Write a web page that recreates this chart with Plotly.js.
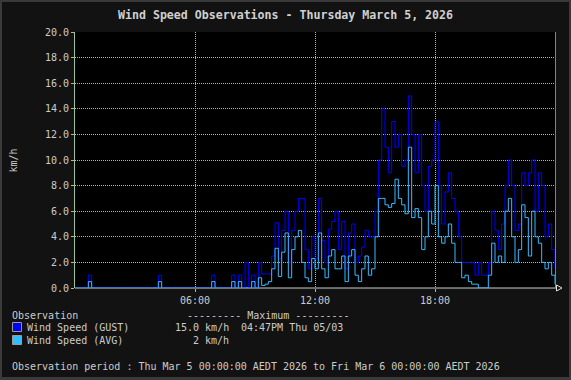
<!DOCTYPE html>
<html><head><meta charset="utf-8">
<script src="https://cdn.plot.ly/plotly-3.0.1.min.js"></script>
<style>
html,body{margin:0;padding:0;background:#3a3a3a;width:571px;height:380px;overflow:hidden}
#chart{position:absolute;left:2px;top:2px;width:567px;height:375px;}
</style></head><body><div id="chart"></div>
<script>
// ---- data (10-minute steps starting 2026-03-05 00:00) ----
const startDay = '2026-03-05';
const stepMinutes = 10;
const gust = [
 0,0,0,0,1,0,0,0,0,0, 0,0,0,0,0,0,0,0,0,0,
 0,0,0,0,0,1,0,0,0,0, 0,0,0,0,0,0,0,0,0,0,
 0,1,0,0,0,0,0,1,0,1, 0,2,0,1,0,2,1.1,1.1,1.1,2.5,
 5.1,2.3,4.5,6,2,4.5,6,7,7,3, 1.5,4,2.3,7,3.7,2,4.6,5.2,6,3,
 5.2,1.5,4.3,5,2,2.5,3.2,4.5,4,4, 6,10,14,11,9,13,11,12,9.5,10,
 15,12,9,12,8,6,9.5,10,13,8, 5,7.5,9,7,6,4,2,2,2,2,
 1,2,1,1,2,6,4.5,3,5,8, 10,8,4.5,5,9,8,9,10,6,9,
 8,4,5,3,1.5
];
const avg = [
 0,0,0,0,0.5,0,0,0,0,0, 0,0,0,0,0,0,0,0,0,0,
 0,0,0,0,0,0.5,0,0,0,0, 0,0,0,0,0,0,0,0,0,0,
 0,0.5,0,0,0,0,0,0.5,0,0.5, 0,0,0,0.5,0,0.8,0.2,0.3,0.5,1.5,
 3.1,0.9,2.8,4.3,0.8,3,4,4.5,2,0.8, 0.5,2.3,1.5,4.3,1.5,0.8,2.5,3,1.5,1.5,
 2.5,0.5,2.5,3,1,0.5,1.5,2.5,1,1.5, 4,7,7,6.5,6.3,6.6,8.5,7,6.5,5.8,
 11,5.5,6.2,5.5,3,4,6,5,8,4, 3.5,4,5,3.5,2,2,0.8,1,0.5,0.3,
 0.3,0,0,0,1,3.5,2,2.5,2,6, 7,4,2,3,6.5,5.5,2.5,6,4,3.5,
 2,1.5,2,1,0.3
];
const seriesNames = ['Wind Speed (GUST)', 'Wind Speed (AVG)'];
const seriesColors = ['#0000ff', '#33bbff'];
const yTickVals = [0,2,4,6,8,10,12,14,16,18,20];
const xTickVals = ['2026-03-05 06:00','2026-03-05 12:00','2026-03-05 18:00'];
const xTickLabels = ['06:00','12:00','18:00'];
const maxGust = '15.0 km/h';
const maxGustTime = '04:47PM Thu 05/03';
const maxAvg = '2 km/h';
const titleText = 'Wind Speed Observations - Thursday March 5, 2026';
const periodText = 'Observation period : Thu Mar 5 00:00:00 AEDT 2026 to Fri Mar 6 00:00:00 AEDT 2026';

function pad(n){return (n<10?'0':'')+n;}
const times = gust.map((_, i) => {
  const m = i*stepMinutes;
  const d = 5 + Math.floor(m/1440);
  const mm = m % 1440;
  return '2026-03-' + pad(d) + ' ' + pad(Math.floor(mm/60)) + ':' + pad(mm%60);
});

// ---- layout geometry (page pixels -> paper) ----
const W = 567, H = 375, offX = 2, offY = 2;
const M = {l:73, r:14, t:30, b:89};
const PW = W - M.l - M.r, PH = H - M.t - M.b;
const px = x => (x - offX - M.l)/PW;
const py = y => 1 - (y - offY - M.t)/PH;

const FONT = 'DejaVu Sans Mono';
const TXT = '#cccccc';
const GRID = '#9cc49c';

function ann(text, x, y, anchor, extra){
  return Object.assign({text, xref:'paper', yref:'paper', x:px(x), y:py(y),
    xanchor:anchor||'left', yanchor:'middle', showarrow:false,
    font:{family:FONT, size:10, color:TXT}}, extra||{});
}

const traces = [
  {x: times, y: gust, type:'scatter', mode:'lines', line:{shape:'hv', color:seriesColors[0], width:1}, name:seriesNames[0], hoverinfo:'skip'},
  {x: times, y: avg, type:'scatter', mode:'lines', line:{shape:'hv', color:seriesColors[1], width:1}, name:seriesNames[1], hoverinfo:'skip'}
];

const layout = {
  width: W, height: H,
  margin: M,
  paper_bgcolor:'#121212', plot_bgcolor:'#000000',
  showlegend:false,
  font:{family:FONT, size:10, color:TXT},
  xaxis:{type:'date', range:['2026-03-05 00:00','2026-03-06 00:00'],
    tickvals:xTickVals, ticktext:xTickLabels,
    showgrid:true, gridcolor:GRID, griddash:'1px,1px', gridwidth:1,
    ticks:'outside', ticklen:3, tickcolor:GRID,
    showline:false, zeroline:false,
    tickfont:{family:FONT, size:10, color:TXT}},
  yaxis:{range:[0,20], tickvals:yTickVals, tickformat:'.1f',
    showgrid:true, gridcolor:GRID, griddash:'1px,1px', gridwidth:1,
    ticks:'outside', ticklen:3, tickcolor:GRID,
    showline:true, linecolor:GRID, linewidth:1, zeroline:false,
    tickfont:{family:FONT, size:10, color:TXT}},
  annotations:[
    ann(titleText, 285.5, 15, 'center', {font:{family:FONT, size:11.6, color:'#d0d0d0', weight:'bold'}}),
    ann('km/h', 12.5, 160, 'center', {textangle:-90}),
    ann('Observation', 10, 315),
    ann('--------- Maximum ---------', 185, 315),
    ann(seriesNames[0], 24.6, 327.5),
    ann(maxGust, 173, 327.5),
    ann(maxGustTime, 239.4, 327.5),
    ann(seriesNames[1], 24.6, 340.5),
    ann(maxAvg, 230.7, 340.5, 'right'),
    ann(periodText, 10, 366.5)
  ],
  shapes:[
    {type:'line', xref:'paper', yref:'paper', x0:px(75), x1:px(557), y0:py(288), y1:py(288), line:{color:'#c8d0c8', width:1}, layer:'between'},
    {type:'line', xref:'paper', yref:'paper', x0:px(555.5), x1:px(555.5), y0:py(32), y1:py(288), line:{color:'#8a8a48', width:1}, layer:'above'},
    {type:'path', xref:'paper', yref:'paper',
      path:'M'+px(556.5)+','+py(285)+' L'+px(562)+','+py(288)+' L'+px(556.5)+','+py(291)+' Z',
      line:{color:'#e0e0e0', width:1}, fillcolor:'rgba(0,0,0,0)', layer:'above'},
    {type:'rect', xref:'paper', yref:'paper', x0:px(12.5), x1:px(21.5), y0:py(322.5), y1:py(331.5), fillcolor:seriesColors[0], line:{color:'#9a9a9a', width:1}},
    {type:'rect', xref:'paper', yref:'paper', x0:px(12.5), x1:px(21.5), y0:py(335.5), y1:py(344.5), fillcolor:seriesColors[1], line:{color:'#9a9a9a', width:1}}
  ]
};

Plotly.newPlot('chart', traces, layout, {displayModeBar:false, staticPlot:true});
</script></body></html>
